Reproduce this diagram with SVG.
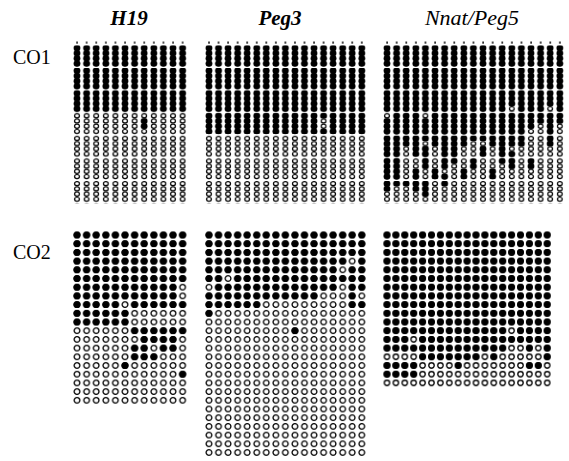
<svg xmlns="http://www.w3.org/2000/svg" width="569" height="461" viewBox="0 0 569 461">
<style>
.t{font-family:"Liberation Serif","Times New Roman",serif;font-style:italic;font-weight:bold;font-size:21px;text-anchor:middle}
.l{font-family:"Liberation Serif","Times New Roman",serif;font-size:20px}
</style>
<defs>
<g id="c1f"><ellipse cx="0" cy="2.6" rx="3.3" ry="3.2"/><ellipse cx="0" cy="7.8" rx="3.3" ry="3.2"/><ellipse cx="0" cy="13" rx="3.3" ry="3.2"/><ellipse cx="0" cy="18.2" rx="3.3" ry="3.2"/></g>
<g id="c1o" fill="#fff" stroke="#000" stroke-width="1.2"><ellipse cx="0" cy="2.6" rx="2.4" ry="2"/><ellipse cx="0" cy="7.8" rx="2.4" ry="2"/><ellipse cx="0" cy="13" rx="2.4" ry="2"/><ellipse cx="0" cy="18.2" rx="2.4" ry="2"/></g>
<pattern id="h1f" patternUnits="userSpaceOnUse" x="72.2" y="45.4" width="9.6" height="22.6"><use href="#c1f" x="4.8"/></pattern>
<pattern id="h1o" patternUnits="userSpaceOnUse" x="72.2" y="45.4" width="9.6" height="22.6"><rect width="9.6" height="22.6" fill="#fff"/><use href="#c1o" x="4.8"/></pattern>
<pattern id="p1f" patternUnits="userSpaceOnUse" x="204.2" y="45.4" width="9.55" height="22.6"><use href="#c1f" x="4.775"/></pattern>
<pattern id="p1o" patternUnits="userSpaceOnUse" x="204.2" y="45.4" width="9.55" height="22.6"><rect width="9.55" height="22.6" fill="#fff"/><use href="#c1o" x="4.775"/></pattern>
<pattern id="n1f" patternUnits="userSpaceOnUse" x="382.2" y="45.4" width="9.6" height="22.6"><use href="#c1f" x="4.8"/></pattern>
<pattern id="n1o" patternUnits="userSpaceOnUse" x="382.2" y="45.4" width="9.6" height="22.6"><rect width="9.6" height="22.6" fill="#fff"/><use href="#c1o" x="4.8"/></pattern>
<pattern id="h2f" patternUnits="userSpaceOnUse" x="72.2" y="230.65" width="9.6" height="8.7"><circle cx="4.8" cy="4.35" r="3.5"/></pattern>
<pattern id="h2o" patternUnits="userSpaceOnUse" x="72.2" y="230.65" width="9.6" height="8.7"><rect width="9.6" height="8.7" fill="#fff"/><circle cx="4.8" cy="4.35" r="2.8" fill="#fff" stroke="#000" stroke-width="1.3"/></pattern>
<pattern id="p2f" patternUnits="userSpaceOnUse" x="204.2" y="230.65" width="9.55" height="8.7"><circle cx="4.775" cy="4.35" r="3.5"/></pattern>
<pattern id="p2o" patternUnits="userSpaceOnUse" x="204.2" y="230.65" width="9.55" height="8.7"><rect width="9.55" height="8.7" fill="#fff"/><circle cx="4.775" cy="4.35" r="2.8" fill="#fff" stroke="#000" stroke-width="1.3"/></pattern>
<pattern id="n2f" patternUnits="userSpaceOnUse" x="382.55" y="230.65" width="8.9" height="8.7"><circle cx="4.45" cy="4.35" r="3.4"/></pattern>
<pattern id="n2o" patternUnits="userSpaceOnUse" x="382.55" y="230.65" width="8.9" height="8.7"><rect width="8.9" height="8.7" fill="#fff"/><circle cx="4.45" cy="4.35" r="2.7" fill="#fff" stroke="#000" stroke-width="1.3"/></pattern>
<pattern id="th" patternUnits="userSpaceOnUse" x="72.2" y="41" width="9.6" height="4"><rect x="4.2" y="0.5" width="1.3" height="2.2"/></pattern>
<pattern id="tp" patternUnits="userSpaceOnUse" x="204.2" y="41" width="9.55" height="4"><rect x="4.1" y="0.5" width="1.4" height="2.2"/></pattern>
<pattern id="tn" patternUnits="userSpaceOnUse" x="382.2" y="41" width="9.6" height="4"><rect x="4.2" y="0.5" width="1.4" height="2.2"/></pattern>
</defs>
<rect width="569" height="461" fill="#fff"/>
<g id="titles">
<text class="t" x="129" y="25">H19</text>
<text class="t" x="280" y="25">Peg3</text>
<text class="t" x="472" y="25" style="font-weight:normal;font-size:22px">Nnat/Peg5</text>
<text class="l" x="13" y="64">CO1</text>
<text class="l" x="13" y="259">CO2</text>
</g>
<g id="ticks">
<rect x="72.2" y="41" width="115.2" height="4" fill="url(#th)"/>
<rect x="204.2" y="41" width="162.35" height="4" fill="url(#tp)"/>
<rect x="382.2" y="41" width="182.4" height="4" fill="url(#tn)"/>
</g>
<g id="co1-h19">
<rect x="72.2" y="45.4" width="115.2" height="158.2" fill="url(#h1o)"/>
<g fill="url(#h1f)">
<rect x="72.2" y="45.4" width="115.2" height="67.8"/>
<rect x="139.4" y="118.4" width="9.6" height="10.4"/>
</g>
</g>
<g id="co1-peg3">
<rect x="204.2" y="45.4" width="162.35" height="158.2" fill="url(#p1o)"/>
<rect x="204.2" y="45.4" width="162.35" height="88.6" fill="url(#p1f)"/>
<rect x="318.8" y="118.4" width="9.55" height="10.4" fill="url(#p1o)"/>
</g>
<g id="co1-nnat">
<rect x="382.2" y="45.4" width="182.4" height="158.2" fill="url(#n1o)"/>
<rect x="382.2" y="45.4" width="182.4" height="100.8" fill="url(#n1f)"/>
<g fill="url(#n1o)">
<rect x="507" y="106.2" width="9.6" height="5.2"/>
<rect x="545.4" y="106.2" width="9.6" height="5.2"/>
<rect x="382.2" y="113.2" width="9.6" height="5.2"/>
<rect x="420.6" y="113.2" width="9.6" height="5.2"/>
<rect x="535.8" y="123.6" width="9.6" height="22.6"/>
<rect x="555" y="123.6" width="9.6" height="22.6"/>
<rect x="526.2" y="128.8" width="9.6" height="17.4"/>
<rect x="420.6" y="141" width="9.6" height="5.2"/>
<rect x="468.6" y="141" width="19.2" height="5.2"/>
</g>
<g fill="url(#n1f)">
<rect x="382.2" y="146.2" width="9.6" height="45.2"/>
<rect x="391.8" y="146.2" width="9.6" height="40"/>
<rect x="401.4" y="181" width="9.6" height="5.2"/>
<rect x="411" y="146.2" width="9.6" height="10.4"/>
<rect x="411" y="168.8" width="9.6" height="22.6"/>
<rect x="420.6" y="146.2" width="9.6" height="22.6"/>
<rect x="420.6" y="181" width="9.6" height="15.6"/>
<rect x="430.2" y="168.8" width="9.6" height="10.4"/>
<rect x="439.8" y="146.2" width="9.6" height="22.6"/>
<rect x="439.8" y="174" width="9.6" height="12.2"/>
<rect x="449.4" y="146.2" width="9.6" height="17.4"/>
<rect x="459" y="168.8" width="9.6" height="10.4"/>
<rect x="468.6" y="158.4" width="9.6" height="10.4"/>
<rect x="478.2" y="146.2" width="9.6" height="10.4"/>
<rect x="487.8" y="168.8" width="9.6" height="10.4"/>
<rect x="497.4" y="146.2" width="9.6" height="17.4"/>
<rect x="507" y="151.4" width="9.6" height="17.4"/>
<rect x="526.2" y="158.4" width="9.6" height="10.4"/>
</g>
</g>
<g id="co2-h19">
<rect x="72.2" y="230.65" width="115.2" height="174" fill="url(#h2o)"/>
<g fill="url(#h2f)">
<rect x="72.2" y="230.65" width="57.6" height="95.7"/>
<rect x="129.8" y="230.65" width="48" height="78.3"/>
<rect x="177.8" y="230.65" width="9.6" height="52.2"/>
<rect x="177.8" y="300.25" width="9.6" height="8.7"/>
<rect x="129.8" y="326.35" width="57.6" height="8.7"/>
<rect x="139.4" y="335.05" width="38.4" height="8.7"/>
<rect x="129.8" y="343.75" width="19.2" height="8.7"/>
<rect x="158.6" y="343.75" width="19.2" height="8.7"/>
<rect x="129.8" y="352.45" width="28.8" height="8.7"/>
<rect x="120.2" y="361.15" width="9.6" height="8.7"/>
<rect x="177.8" y="369.85" width="9.6" height="8.7"/>
</g>
<rect x="120.2" y="300.25" width="9.6" height="8.7" fill="url(#h2o)"/>
</g>
<g id="co2-peg3">
<rect x="204.2" y="230.65" width="162.35" height="226.2" fill="url(#p2o)"/>
<rect x="204.2" y="230.65" width="162.35" height="69.6" fill="url(#p2f)"/>
<g fill="url(#p2o)">
<rect x="347.45" y="256.75" width="9.55" height="8.7"/>
<rect x="337.9" y="265.45" width="9.55" height="8.7"/>
<rect x="223.3" y="274.15" width="9.55" height="8.7"/>
<rect x="204.2" y="282.85" width="9.55" height="8.7"/>
<rect x="337.9" y="282.85" width="9.55" height="8.7"/>
<rect x="318.8" y="291.55" width="28.65" height="8.7"/>
<rect x="357" y="291.55" width="9.55" height="8.7"/>
</g>
<g fill="url(#p2f)">
<rect x="204.2" y="300.25" width="57.3" height="8.7"/>
<rect x="347.45" y="300.25" width="19.1" height="8.7"/>
<rect x="204.2" y="308.95" width="9.55" height="8.7"/>
<rect x="290.15" y="326.35" width="9.55" height="8.7"/>
</g>
</g>
<g id="co2-nnat">
<rect x="382.55" y="230.65" width="169.1" height="156.6" fill="url(#n2o)"/>
<rect x="382.55" y="230.65" width="169.1" height="121.8" fill="url(#n2f)"/>
<g fill="url(#n2o)">
<rect x="507.15" y="326.35" width="8.9" height="8.7"/>
<rect x="409.25" y="335.05" width="8.9" height="8.7"/>
<rect x="507.15" y="343.75" width="17.8" height="8.7"/>
<rect x="533.85" y="343.75" width="8.9" height="8.7"/>
</g>
<g fill="url(#n2f)">
<rect x="418.15" y="352.45" width="62.3" height="8.7"/>
<rect x="489.35" y="352.45" width="8.9" height="8.7"/>
<rect x="542.75" y="352.45" width="8.9" height="8.7"/>
<rect x="382.55" y="361.15" width="35.6" height="8.7"/>
<rect x="453.75" y="361.15" width="8.9" height="8.7"/>
<rect x="524.95" y="361.15" width="17.8" height="8.7"/>
<rect x="382.55" y="369.85" width="35.6" height="8.7"/>
</g>
</g>
</svg>
